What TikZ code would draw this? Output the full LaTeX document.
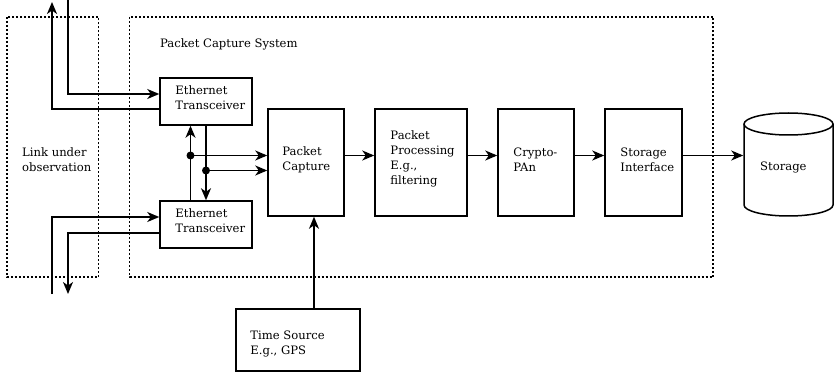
\documentclass[tikz,border=0pt]{standalone}
\usepackage{fontspec}
\setmainfont{DejaVu Serif}
\usetikzlibrary{arrows.meta,calc}
\begin{document}
\begin{tikzpicture}[x=1pt,y=-1pt,
  lbl/.style={font=\fontsize{11.6}{15}\selectfont, inner sep=0pt, anchor=west, align=left},
  block/.style={draw, line width=1.5pt, inner sep=0pt},
  wire/.style={line width=1.5pt, -{Stealth[length=12pt,width=10pt,inset=3.5pt]}},
  frame/.style={line width=1.5pt, dash pattern=on 2pt off 2pt},
  joint/.style={fill, circle, inner sep=0pt, minimum size=8pt}]
\useasboundingbox (0,0) rectangle (835,374);

% dotted enclosures
\draw[frame] (7,17) rectangle (98.5,277);
\draw[frame] (129.5,17) rectangle (713,277);
\node[lbl] (title) at (160,44) {Packet Capture System};
\node[lbl] (link) at (22,159.5) {Link under\\observation};

% processing blocks
\node[block, minimum width=92pt, minimum height=47pt] (etA) at (206,101.5) {};
\node[block, minimum width=92pt, minimum height=47pt] (etB) at (206,224.5) {};
\node[block, minimum width=76pt, minimum height=107pt] (pc) at (306,162.5) {};
\node[block, minimum width=92pt, minimum height=107pt] (pp) at (421,162.5) {};
\node[block, minimum width=76pt, minimum height=107pt] (cr) at (536,162.5) {};
\node[block, minimum width=77pt, minimum height=107pt] (si) at (643.5,162.5) {};
\node[block, minimum width=124pt, minimum height=62pt] (ts) at (298,340) {};

% block captions, set flush left inside each block
\node[lbl] (etAtext) at ($(etA.west)+(16,-3.5)$) {Ethernet\\Transceiver};
\node[lbl] (etBtext) at ($(etB.west)+(16,-3.5)$) {Ethernet\\Transceiver};
\node[lbl] (pctext) at ($(pc.west)+(15,-3)$) {Packet\\Capture};
\node[lbl] (pptext) at ($(pp.west)+(16,-3.5)$) {Packet\\Processing\\E.g.,\\filtering};
\node[lbl] (crtext) at ($(cr.west)+(16,-3)$) {Crypto-\\PAn};
\node[lbl] (sitext) at ($(si.west)+(16,-3)$) {Storage\\Interface};
\node[lbl] (tstext) at ($(ts.west)+(15,3.5)$) {Time Source\\E.g., GPS};

% storage cylinder
\node[block, draw=none, minimum width=89pt, minimum height=103pt] (stor) at (788.5,164.5) {};
\draw[line width=1.5pt] (788.5,124) ellipse [x radius=44.5pt, y radius=11pt];
\draw[line width=1.5pt] (744,124) -- (744,205)
  arc[start angle=180, end angle=360, x radius=44.5pt, y radius=11pt] -- (833,124);
\node[lbl] (stortext) at (760,167) {Storage};

% link under observation
\coordinate (inA) at (68,0);
\coordinate (outA) at (52,2);
\coordinate (inB) at (52,294);
\coordinate (outB) at (68,294);
\draw[wire] (inA) |- ($(etA.west)+(0,-7.5)$);
\draw[wire] ($(etA.west)+(0,7.5)$) -| (outA);
\draw[wire] (inB) |- ($(etB.west)+(0,-7.5)$);
\draw[wire] ($(etB.west)+(0,8.5)$) -| (outB);

% taps between the transceivers
\coordinate (jA) at (190.5,155.5);
\coordinate (jB) at (206,170.5);
\draw[wire] ($(etB.north)+(-15.5,0)$) -- ($(etA.south)+(-15.5,0)$);
\draw[wire] (etA.south) -- (etB.north);
\draw[wire] (jA) -- (jA -| pc.west);
\draw[wire] (jB) -- (jB -| pc.west);
\node[joint] (dA) at (jA) {};
\node[joint] (dB) at (jB) {};

% main chain
\draw[wire] (pc.east |- jA) -- (pp.west |- jA);
\draw[wire] (pp.east |- jA) -- (cr.west |- jA);
\draw[wire] (cr.east |- jA) -- (si.west |- jA);
\draw[wire] (si.east |- jA) -- (stor.west |- jA);
\draw[wire] ($(ts.north)+(16,0)$) -- ($(pc.south)+(8,0)$);
\end{tikzpicture}
\end{document}
